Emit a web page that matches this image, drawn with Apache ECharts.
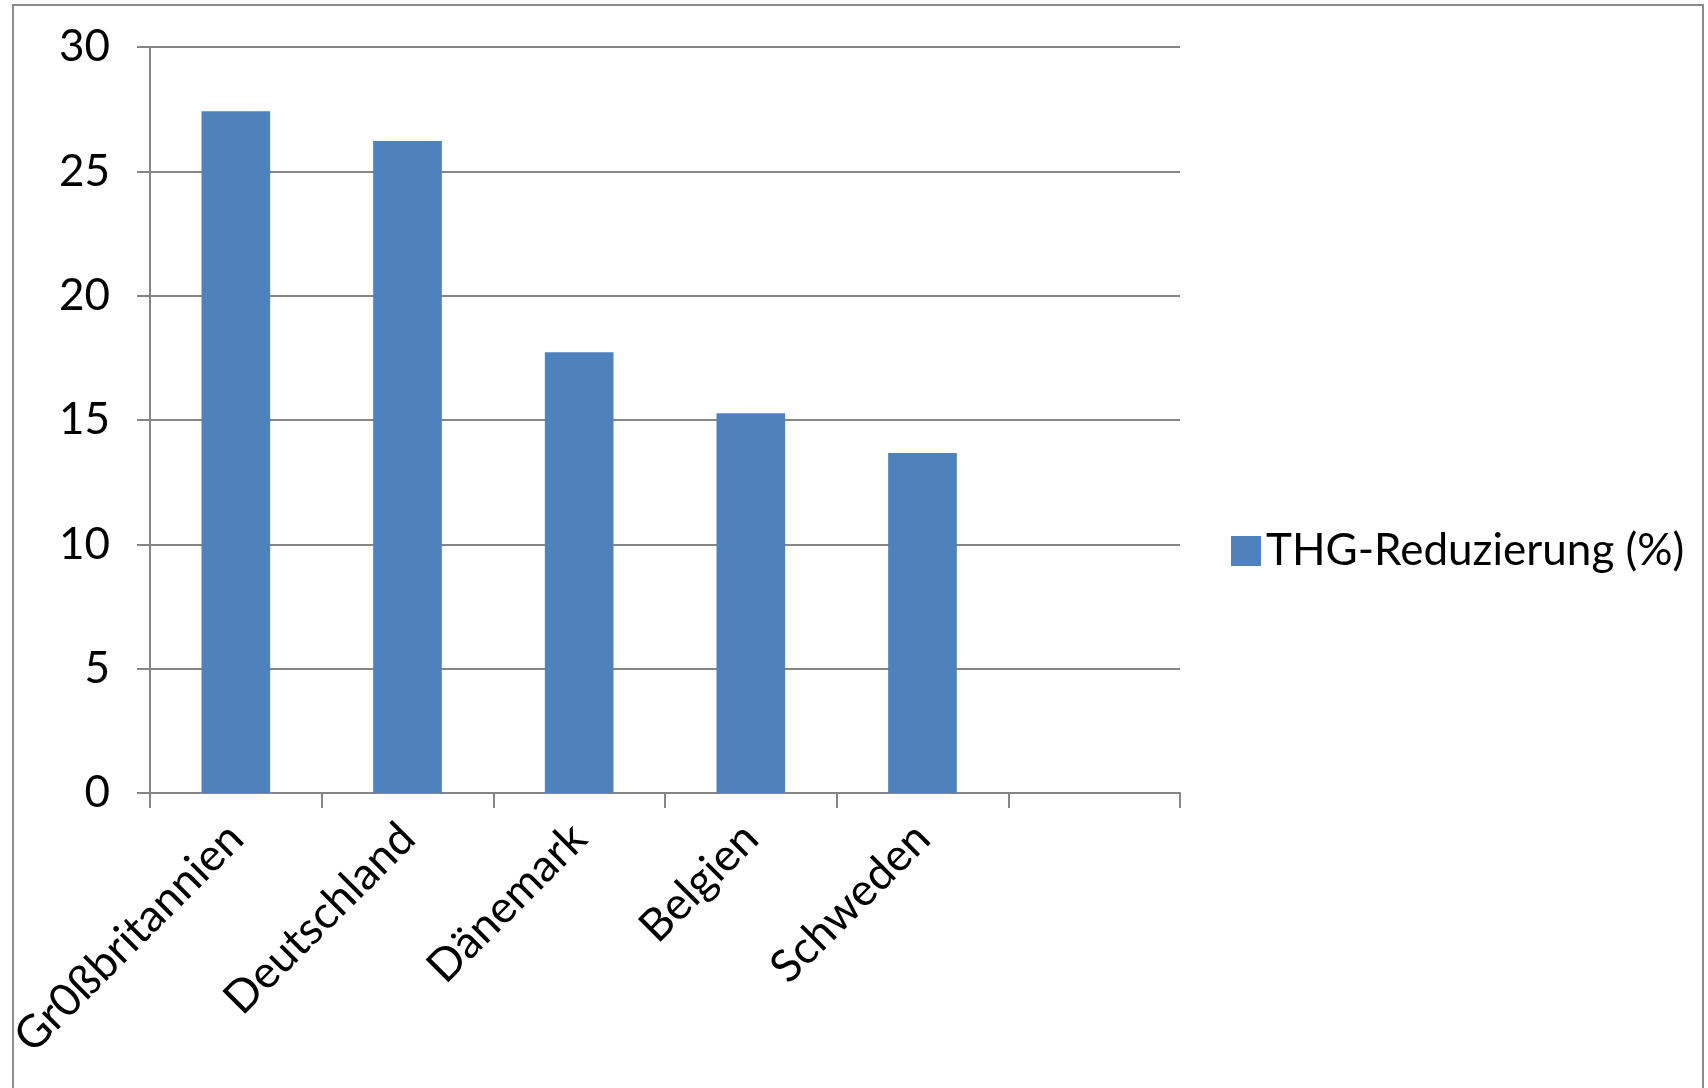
<!DOCTYPE html>
<html>
<head>
<meta charset="utf-8">
<script src="https://cdn.jsdelivr.net/npm/echarts@6/dist/echarts.min.js"></script>
<style>
  html, body { margin: 0; padding: 0; background: #fff; }
  #main { width: 1708px; height: 1088px; }
</style>
</head>
<body>
<div id="main"></div>
<script>
var countries = ['Gr0ßbritannien', 'Deutschland', 'Dänemark', 'Belgien', 'Schweden', ''];
var thgValues = [27.42, 26.22, 17.72, 15.27, 13.67, null];
var seriesName = 'THG-Reduzierung (%)';
var yTicks = [0, 5, 10, 15, 20, 25, 30];

var myChart = echarts.init(document.getElementById('main'));
var fontName = 'Lato';

var option = {
  backgroundColor: '#fff',
  animation: false,
  graphic: [{
    type: 'rect',
    shape: { x: 13, y: 5, width: 1690, height: 1100 },
    style: { fill: 'none', stroke: '#8c8c8c', lineWidth: 2 },
    silent: true
  }],
  legend: {
    data: [seriesName],
    orient: 'vertical',
    left: 1226,
    top: 524,
    itemWidth: 30,
    itemHeight: 30,
    icon: 'rect',
    textStyle: { fontFamily: fontName, fontSize: 44, color: '#000' }
  },
  grid: { left: 150, right: 528, top: 47, bottom: 295, containLabel: false },
  xAxis: {
    type: 'category',
    data: countries,
    axisLine: { lineStyle: { color: '#868686', width: 2 } },
    axisTick: { show: true, length: 15, lineStyle: { color: '#868686', width: 2 } },
    axisLabel: {
      interval: 0,
      rotate: 45,
      margin: 38,
      fontFamily: fontName,
      fontSize: 45,
      color: '#000'
    },
    splitLine: { show: false }
  },
  yAxis: {
    type: 'value',
    min: yTicks[0],
    max: yTicks[yTicks.length - 1],
    interval: 5,
    axisLine: { show: true, lineStyle: { color: '#868686', width: 2 } },
    axisTick: { show: true, length: 13, lineStyle: { color: '#868686', width: 2 } },
    axisLabel: {
      margin: 40,
      fontFamily: fontName,
      fontSize: 44,
      color: '#000'
    },
    splitLine: { show: true, lineStyle: { color: '#868686', width: 2 } }
  },
  series: [{
    name: seriesName,
    type: 'bar',
    data: thgValues,
    barWidth: '40%',
    itemStyle: { color: '#4F81BD' }
  }]
};
myChart.setOption(option);
</script>
</body>
</html>
